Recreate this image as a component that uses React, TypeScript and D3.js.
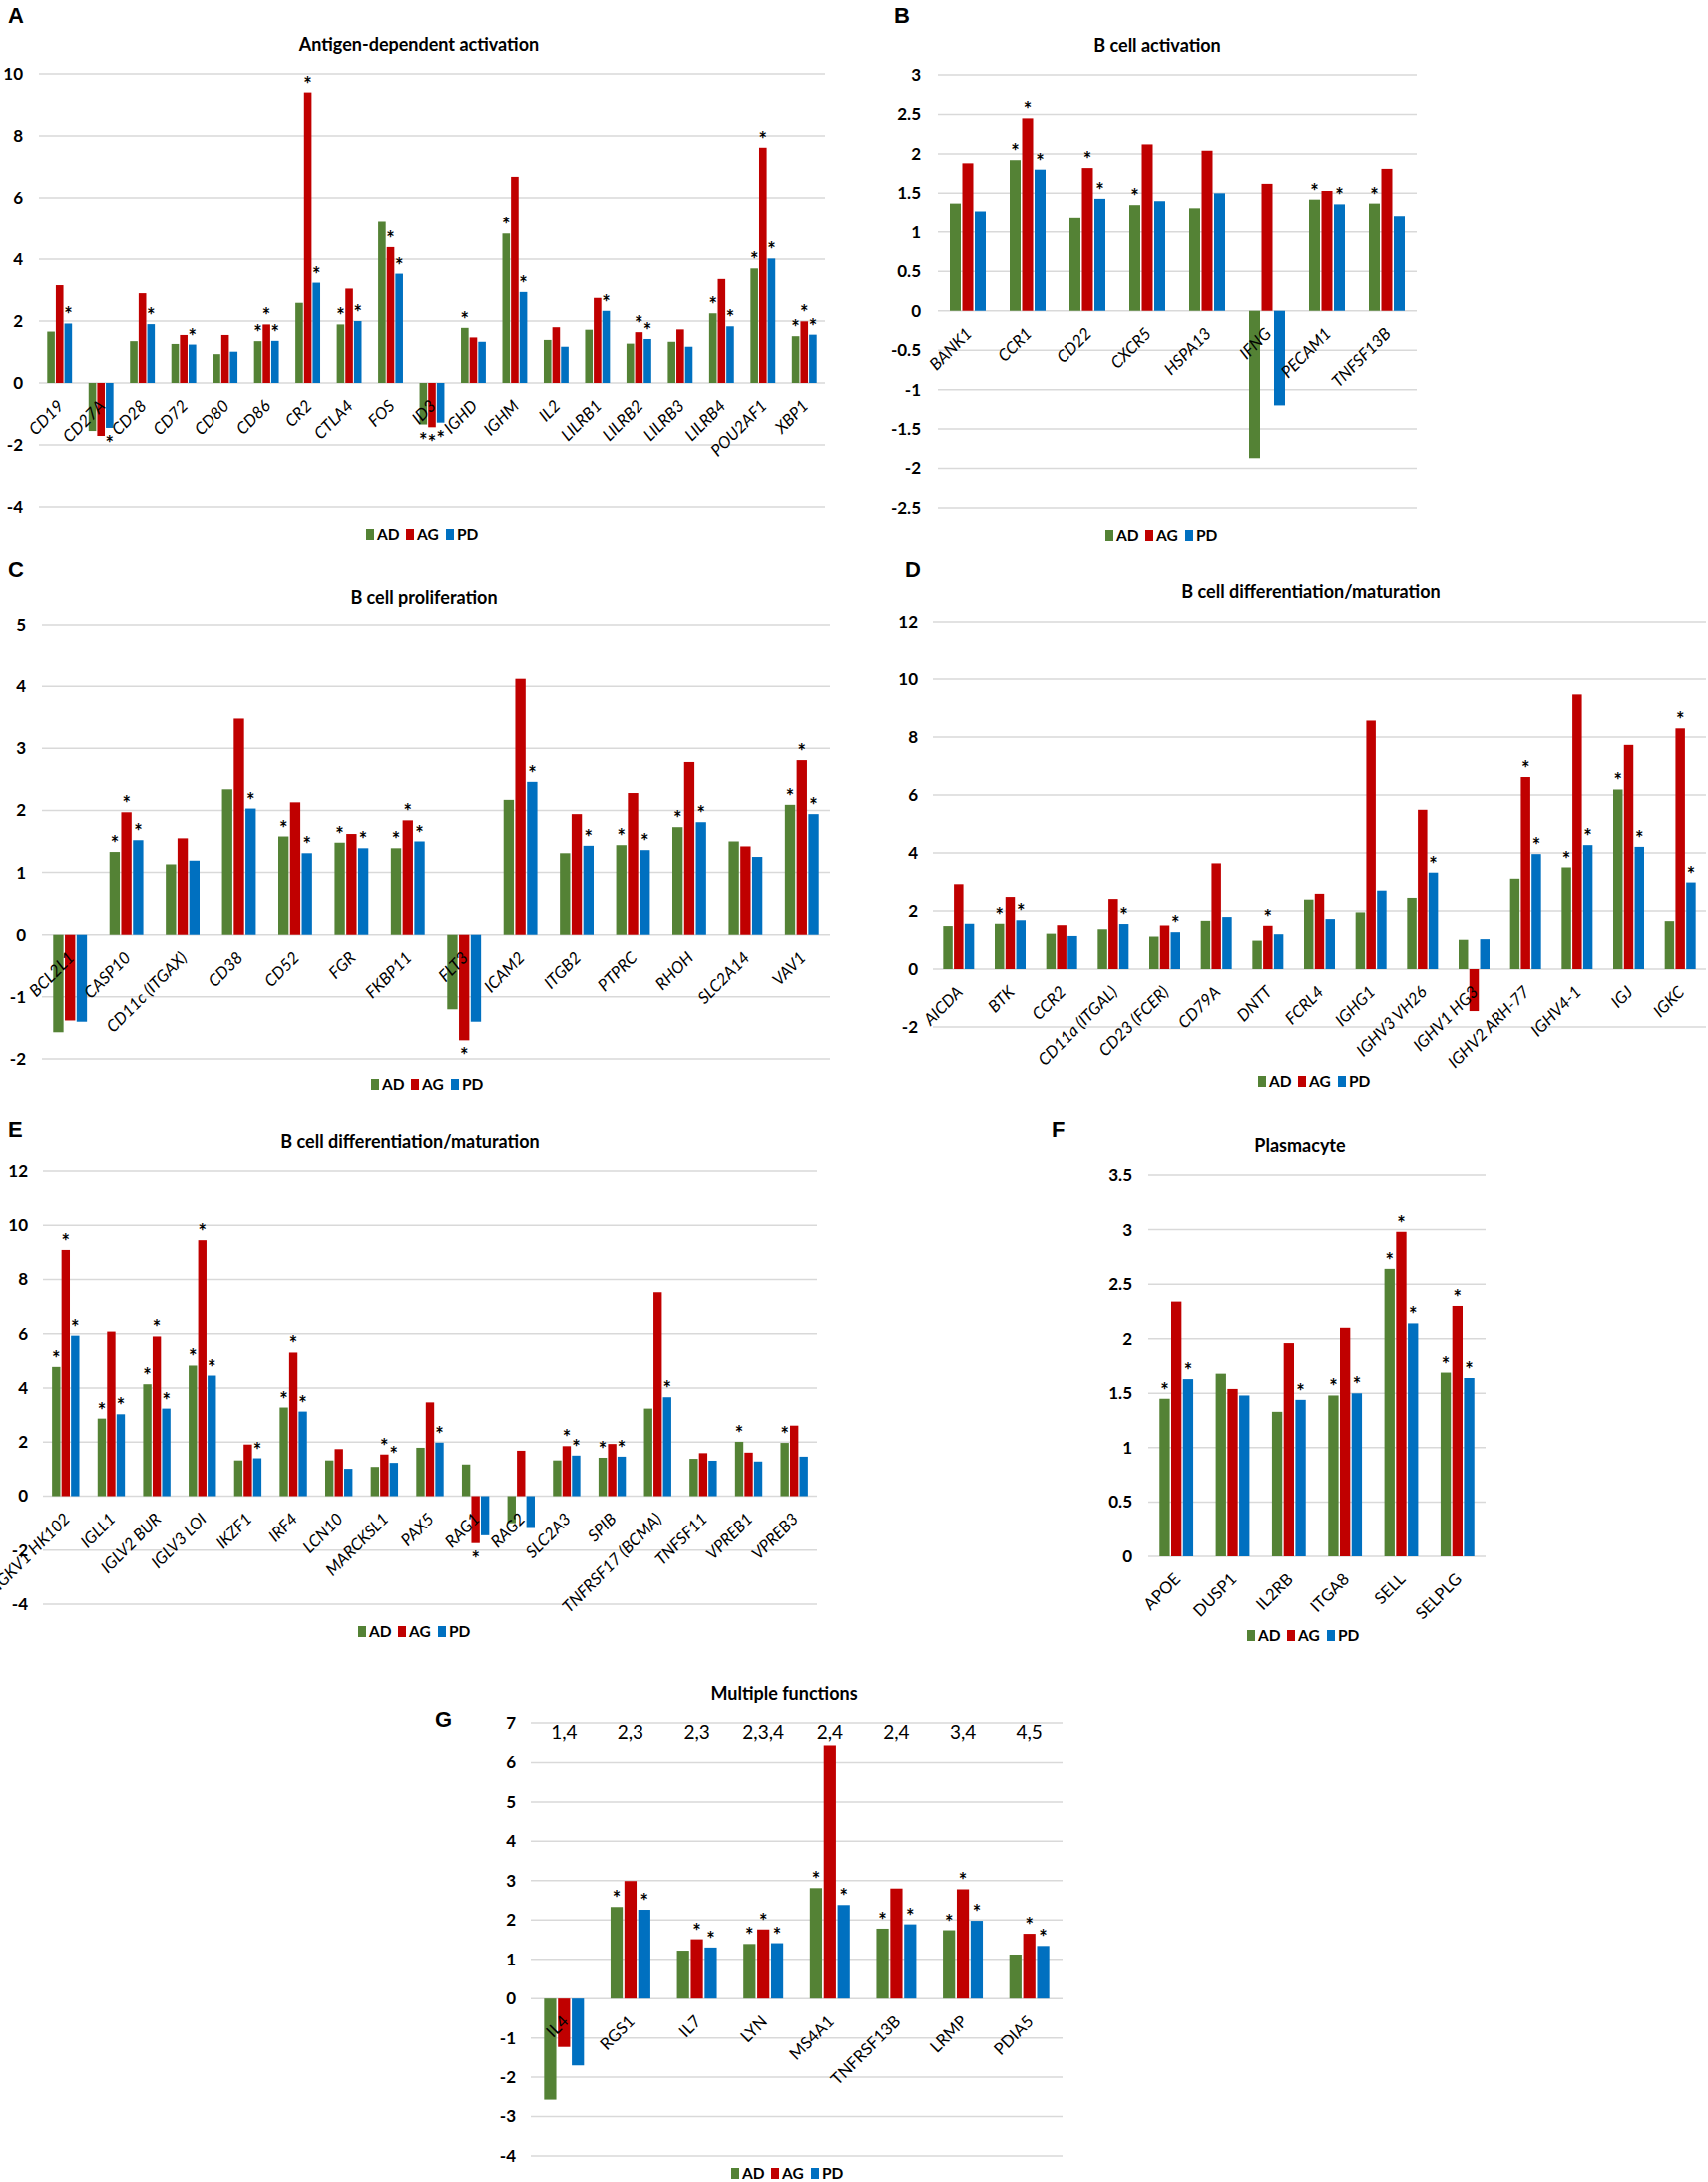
import React from 'react';
import * as d3 from 'd3';

const SERIES = ['AD', 'AG', 'PD'];
const COLORS = ['#548235', '#C00000', '#0070C0'];
const FONT = 'Lato, "Open Sans", sans-serif';

// A - antigen-dependent activation
const aCats = ['CD19', 'CD27A', 'CD28', 'CD72', 'CD80', 'CD86', 'CR2', 'CTLA4', 'FOS', 'ID3', 'IGHD', 'IGHM', 'IL2', 'LILRB1', 'LILRB2', 'LILRB3', 'LILRB4', 'POU2AF1', 'XBP1'];
const aAD = [1.66, -1.55, 1.35, 1.26, 0.93, 1.35, 2.59, 1.89, 5.21, -1.34, 1.78, 4.83, 1.39, 1.72, 1.27, 1.33, 2.25, 3.7, 1.51];
const aAG = [3.16, -1.71, 2.9, 1.55, 1.55, 1.89, 9.4, 3.05, 4.39, -1.43, 1.47, 6.68, 1.8, 2.75, 1.64, 1.73, 3.36, 7.62, 1.99];
const aPD = [1.92, -1.45, 1.9, 1.24, 1.01, 1.36, 3.24, 2.0, 3.53, -1.28, 1.33, 2.94, 1.17, 2.33, 1.42, 1.17, 1.83, 4.02, 1.56];
const aSig = ['001', '001', '001', '001', '000', '111', '011', '101', '011', '111', '100', '101', '000', '001', '011', '000', '101', '111', '111'];

// B - B cell activation
const bCats = ['BANK1', 'CCR1', 'CD22', 'CXCR5', 'HSPA13', 'IFNG', 'PECAM1', 'TNFSF13B'];
const bAD = [1.37, 1.92, 1.19, 1.35, 1.31, -1.87, 1.42, 1.37];
const bAG = [1.88, 2.45, 1.82, 2.12, 2.04, 1.62, 1.53, 1.81];
const bPD = [1.27, 1.8, 1.43, 1.4, 1.5, -1.2, 1.36, 1.21];
const bSig = ['000', '111', '011', '100', '000', '000', '101', '100'];

// C - B cell proliferation
const cCats = ['BCL2L1', 'CASP10', 'CD11c (ITGAX)', 'CD38', 'CD52', 'FGR', 'FKBP11', 'FLT3', 'ICAM2', 'ITGB2', 'PTPRC', 'RHOH', 'SLC2A14', 'VAV1'];
const cAD = [-1.57, 1.33, 1.13, 2.34, 1.58, 1.48, 1.39, -1.2, 2.17, 1.31, 1.44, 1.73, 1.5, 2.09];
const cAG = [-1.38, 1.97, 1.55, 3.48, 2.13, 1.62, 1.84, -1.7, 4.12, 1.94, 2.28, 2.78, 1.42, 2.81];
const cPD = [-1.4, 1.52, 1.19, 2.03, 1.31, 1.39, 1.5, -1.4, 2.46, 1.43, 1.36, 1.81, 1.25, 1.94];
const cSig = ['000', '111', '000', '001', '101', '101', '111', '010', '001', '001', '101', '101', '000', '111'];

// D - B cell differentiation/maturation (1)
const dCats = ['AICDA', 'BTK', 'CCR2', 'CD11a (ITGAL)', 'CD23 (FCER)', 'CD79A', 'DNTT', 'FCRL4', 'IGHG1', 'IGHV3 VH26', 'IGHV1 HG3', 'IGHV2 ARH-77', 'IGHV4-1', 'IGJ', 'IGKC'];
const dAD = [1.48, 1.56, 1.22, 1.37, 1.12, 1.66, 0.98, 2.39, 1.95, 2.45, 1.01, 3.11, 3.5, 6.19, 1.65];
const dAG = [2.92, 2.48, 1.51, 2.41, 1.5, 3.64, 1.49, 2.59, 8.57, 5.49, -1.45, 6.62, 9.47, 7.73, 8.3];
const dPD = [1.56, 1.68, 1.14, 1.55, 1.27, 1.79, 1.2, 1.72, 2.7, 3.32, 1.03, 3.96, 4.27, 4.21, 2.98];
const dSig = ['000', '101', '000', '001', '001', '000', '010', '000', '000', '001', '000', '011', '101', '101', '011'];

// E - B cell differentiation/maturation (2)
const eCats = ['IGKV1 HK102', 'IGLL1', 'IGLV2 BUR', 'IGLV3 LOI', 'IKZF1', 'IRF4', 'LCN10', 'MARCKSL1', 'PAX5', 'RAG1', 'RAG2', 'SLC2A3', 'SPIB', 'TNFRSF17 (BCMA)', 'TNFSF11', 'VPREB1', 'VPREB3'];
const eAD = [4.78, 2.87, 4.14, 4.83, 1.32, 3.28, 1.32, 1.08, 1.79, 1.17, -1.0, 1.32, 1.42, 3.24, 1.38, 2.01, 1.97];
const eAG = [9.09, 6.08, 5.9, 9.45, 1.91, 5.31, 1.74, 1.54, 3.47, -1.74, 1.68, 1.85, 1.93, 7.53, 1.59, 1.61, 2.61];
const ePD = [5.93, 3.03, 3.24, 4.46, 1.4, 3.13, 1.01, 1.23, 1.98, -1.45, -1.18, 1.5, 1.46, 3.66, 1.31, 1.28, 1.46];
const eSig = ['111', '101', '111', '111', '001', '111', '000', '011', '001', '010', '000', '011', '101', '001', '000', '100', '100'];

// F - plasmacyte
const fCats = ['APOE', 'DUSP1', 'IL2RB', 'ITGA8', 'SELL', 'SELPLG'];
const fAD = [1.45, 1.68, 1.33, 1.48, 2.64, 1.69];
const fAG = [2.34, 1.54, 1.96, 2.1, 2.98, 2.3];
const fPD = [1.63, 1.48, 1.44, 1.5, 2.14, 1.64];
const fSig = ['101', '000', '001', '101', '111', '111'];

// G - multiple functions
const gCats = ['IL4', 'RGS1', 'IL7', 'LYN', 'MS4A1', 'TNFRSF13B', 'LRMP', 'PDIA5'];
const gFunctions = ['1,4', '2,3', '2,3', '2,3,4', '2,4', '2,4', '3,4', '4,5'];
const gAD = [-2.57, 2.33, 1.22, 1.39, 2.81, 1.78, 1.74, 1.12];
const gAG = [-1.23, 2.99, 1.51, 1.76, 6.43, 2.8, 2.78, 1.65];
const gPD = [-1.7, 2.26, 1.3, 1.41, 2.38, 1.89, 1.98, 1.34];
const gSig = ['000', '101', '011', '111', '101', '101', '111', '011'];

interface PanelProps {
  letter: string;
  letterX: number;
  letterY: number;
  title: string;
  titleX: number;
  titleY: number;
  cats: string[];
  values: number[][];
  sig: string[];
  x0: number;
  x1: number;
  domain: [number, number];
  yTop: number;
  yBottom: number;
  step: number;
  tickX: number;
  legendX: number;
  legendY: number;
  italic?: boolean;
  topLabels?: string[];
  topLabelY?: number;
}

const Panel = (p: PanelProps) => {
  const x = d3
    .scaleBand<string>()
    .domain(p.cats)
    .range([p.x0, p.x1])
    .paddingInner(0.4)
    .paddingOuter(0.2);
  const xs = d3
    .scaleBand<string>()
    .domain(SERIES)
    .range([0, x.bandwidth()])
    .paddingInner(0.12);
  const y = d3.scaleLinear().domain(p.domain).range([p.yBottom, p.yTop]);
  const n = Math.round((p.domain[1] - p.domain[0]) / p.step);
  const ticks = d3.range(n + 1).map((i) => p.domain[0] + i * p.step);
  const y0 = y(0);

  return (
    <g fontFamily={FONT}>
      <text x={p.letterX} y={p.letterY} fontFamily='"Liberation Sans", Arial, sans-serif' fontWeight={700} fontSize={22}>
        {p.letter}
      </text>
      <text x={p.titleX} y={p.titleY} textAnchor="middle" fontWeight={700} fontSize={18}>
        {p.title}
      </text>

      {ticks.map((t) => (
        <g key={t}>
          <line x1={p.x0} x2={p.x1} y1={y(t)} y2={y(t)} stroke="#d9d9d9" strokeWidth={1.5} />
          <text x={p.tickX} y={y(t)} dy="0.35em" textAnchor="end" fontWeight={700} fontSize={17}>
            {`${+t.toFixed(1)}`}
          </text>
        </g>
      ))}

      {p.cats.map((c, i) => {
        const cx = (x(c) ?? 0) + x.bandwidth() / 2;
        return (
          <g key={c}>
            {SERIES.map((s, j) => {
              const v = p.values[j][i];
              const bx = (x(c) ?? 0) + (xs(s) ?? 0);
              const bw = xs.bandwidth();
              const yv = y(v);
              const star = p.sig[i][j] === '1';
              return (
                <g key={s}>
                  <rect x={bx} y={Math.min(yv, y0)} width={bw} height={Math.abs(yv - y0)} fill={COLORS[j]} />
                  {star && (
                    <text x={bx + bw / 2} y={v >= 0 ? yv - 1 : yv + 23} textAnchor="middle" fontWeight={700} fontSize={20}>
                      *
                    </text>
                  )}
                </g>
              );
            })}
            <text
              transform={`translate(${cx + 1},${y0 + 20}) rotate(-45)`}
              dy="0.35em"
              textAnchor="end"
              fontSize={16.5}
              fontStyle={p.italic === false ? 'normal' : 'italic'}
            >
              {c}
            </text>
            {p.topLabels && (
              <text x={cx} y={p.topLabelY} textAnchor="middle" fontSize={19}>
                {p.topLabels[i]}
              </text>
            )}
          </g>
        );
      })}

      {SERIES.map((s, j) => {
        const lx = p.legendX - 55 + j * 40;
        return (
          <g key={s}>
            <rect x={lx} y={p.legendY - 11} width={8} height={11} fill={COLORS[j]} />
            <text x={lx + 11} y={p.legendY} fontWeight={700} fontSize={15.5}>
              {s}
            </text>
          </g>
        );
      })}
    </g>
  );
};

const App = () => {
  return (
    <svg
      width={1712}
      height={2187}
      style={{ position: 'absolute', left: 0, top: 0, background: '#fff' }}
    >
      <Panel letter="A" letterX={8} letterY={23} title="Antigen-dependent activation" titleX={420} titleY={51}
        cats={aCats} values={[aAD, aAG, aPD]} sig={aSig} x0={39} x1={827} domain={[-4, 10]}
        yTop={74} yBottom={508} step={2} tickX={23} legendX={422} legendY={541} />
      <Panel letter="B" letterX={896} letterY={23} title="B cell activation" titleX={1160} titleY={52}
        cats={bCats} values={[bAD, bAG, bPD]} sig={bSig} x0={940} x1={1420} domain={[-2.5, 3]}
        yTop={75} yBottom={509} step={0.5} tickX={923} legendX={1163} legendY={542} />
      <Panel letter="C" letterX={8} letterY={578} title="B cell proliferation" titleX={425} titleY={605}
        cats={cCats} values={[cAD, cAG, cPD]} sig={cSig} x0={42} x1={832} domain={[-2, 5]}
        yTop={626} yBottom={1061} step={1} tickX={26} legendX={427} legendY={1092} />
      <Panel letter="D" letterX={907} letterY={578} title="B cell differentiation/maturation" titleX={1314} titleY={599}
        cats={dCats} values={[dAD, dAG, dPD]} sig={dSig} x0={935} x1={1710} domain={[-2, 12]}
        yTop={623} yBottom={1029} step={2} tickX={920} legendX={1316} legendY={1089} />
      <Panel letter="E" letterX={8} letterY={1140} title="B cell differentiation/maturation" titleX={411} titleY={1151}
        cats={eCats} values={[eAD, eAG, ePD]} sig={eSig} x0={43} x1={819} domain={[-4, 12]}
        yTop={1174} yBottom={1608} step={2} tickX={28} legendX={414} legendY={1641} />
      <Panel letter="F" letterX={1054} letterY={1140} title="Plasmacyte" titleX={1303} titleY={1155}
        cats={fCats} values={[fAD, fAG, fPD]} sig={fSig} x0={1151} x1={1489} domain={[0, 3.5]}
        yTop={1178} yBottom={1560} step={0.5} tickX={1135} legendX={1305} legendY={1645} italic={false} />
      <Panel letter="G" letterX={436} letterY={1731} title="Multiple functions" titleX={786} titleY={1704}
        cats={gCats} values={[gAD, gAG, gPD]} sig={gSig} x0={532} x1={1065} domain={[-4, 7]}
        yTop={1727} yBottom={2161} step={1} tickX={517} legendX={788} legendY={2184} italic={false}
        topLabels={gFunctions} topLabelY={1743} />
    </svg>
  );
};

export default App;
